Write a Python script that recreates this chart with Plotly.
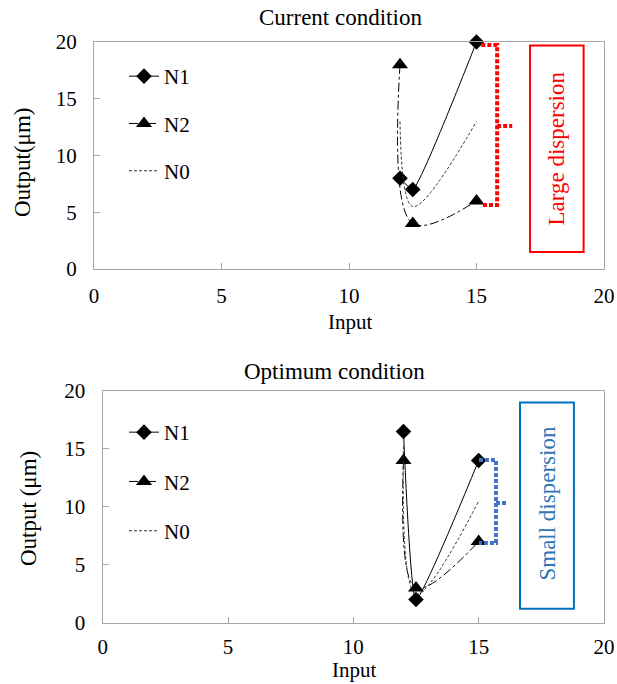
import plotly.graph_objects as go

# ---- data ----
x_in = [12, 12.5, 15]
cur_n1 = [8, 7, 20]
cur_n2 = [18, 4, 6]
cur_n0 = [13, 5.5, 13]
opt_n1 = [16.5, 2, 14]
opt_n2 = [14, 3, 7]
opt_n0 = [15.25, 2.5, 10.5]
x_ticks = [0, 5, 10, 15, 20]
y_ticks = [0, 5, 10, 15, 20]

FONT = "Liberation Serif"
W, H = 617, 684

fig = go.Figure()

def add_series(xa, ya, leg, n1, n2, n0):
    fig.add_trace(go.Scatter(x=x_in, y=n1, name="N1", mode="lines+markers",
                             line=dict(color="black", width=1, shape="spline", smoothing=0.4),
                             marker=dict(symbol="diamond", size=12, color="black"),
                             xaxis=xa, yaxis=ya, legend=leg, legendgroup=leg + "a", cliponaxis=False))
    fig.add_trace(go.Scatter(x=x_in, y=n2, name="N2", mode="lines+markers",
                             line=dict(color="black", width=1, dash="dashdot", shape="spline", smoothing=1),
                             marker=dict(symbol="triangle-up", size=14, color="black"),
                             xaxis=xa, yaxis=ya, legend=leg, legendgroup=leg + "b", cliponaxis=False))
    fig.add_trace(go.Scatter(x=x_in, y=n0, name="N0", mode="lines",
                             line=dict(color="#333333", width=1, dash="3px,2px", shape="spline", smoothing=1),
                             xaxis=xa, yaxis=ya, legend=leg, legendgroup=leg + "c", cliponaxis=False))

add_series("x", "y", "legend", cur_n1, cur_n2, cur_n0)
add_series("x2", "y2", "legend2", opt_n1, opt_n2, opt_n0)

def px_x(p):
    return p / W

def px_y(p):
    return 1 - p / H

axis_common = dict(range=[0, 20], showgrid=False, zeroline=False, showline=True, mirror=True,
                   linecolor="#a6a6a6", linewidth=1.3, ticks="inside", ticklen=6, tickcolor="#a6a6a6",
                   tickfont=dict(family=FONT, size=21, color="black"), tickvals=x_ticks,
                   fixedrange=True, automargin=False)

legend_common = dict(font=dict(family=FONT, size=21, color="black"), bgcolor="rgba(0,0,0,0)",
                     tracegroupgap=17, xanchor="left", yanchor="top", itemclick=False)

fig.update_layout(
    template="none",
    width=W, height=H, autosize=False,
    margin=dict(l=0, r=0, t=0, b=0, pad=0),
    paper_bgcolor="white", plot_bgcolor="white",
    showlegend=True,
    xaxis=dict(axis_common, domain=[px_x(94), px_x(604)], anchor="y", ticklabelstandoff=8),
    yaxis=dict(axis_common, domain=[px_y(269), px_y(42)], anchor="x", tickvals=y_ticks, ticklabelstandoff=12),
    xaxis2=dict(axis_common, domain=[px_x(102.7), px_x(604)], anchor="y2", ticklabelstandoff=5),
    yaxis2=dict(axis_common, domain=[px_y(622.7), px_y(391)], anchor="x2", tickvals=y_ticks, ticklabelstandoff=12),
    legend=dict(legend_common, x=px_x(124), y=px_y(56)),
    legend2=dict(legend_common, x=px_x(124), y=px_y(412), tracegroupgap=19),
)

ann_font = dict(family=FONT, size=23, color="black")
lab_font = dict(family=FONT, size=21, color="black")
annotations = [
    dict(text="Current condition", x=px_x(340), y=px_y(18), xref="paper", yref="paper",
         showarrow=False, font=ann_font, yanchor="middle"),
    dict(text="Optimum condition", x=px_x(334), y=px_y(371), xref="paper", yref="paper",
         showarrow=False, font=ann_font, yanchor="middle"),
    dict(text="Input", x=px_x(350), y=px_y(322), xref="paper", yref="paper",
         showarrow=False, font=lab_font, yanchor="middle"),
    dict(text="Input", x=px_x(354), y=px_y(670), xref="paper", yref="paper",
         showarrow=False, font=lab_font, yanchor="middle"),
    dict(text="Output(μm)", x=px_x(22), y=px_y(163), xref="paper", yref="paper",
         showarrow=False, font=ann_font, textangle=-90, xanchor="center", yanchor="middle"),
    dict(text="Output (μm)", x=px_x(29), y=px_y(509), xref="paper", yref="paper",
         showarrow=False, font=ann_font, textangle=-90, xanchor="center", yanchor="middle"),
    dict(text="Large dispersion", x=18.15, y=10.6, xref="x", yref="y", showarrow=False,
         font=dict(family=FONT, size=23, color="#ff0000"), textangle=-90),
    dict(text="Small dispersion", x=17.75, y=10.25, xref="x2", yref="y2", showarrow=False,
         font=dict(family=FONT, size=23, color="#2e75b6"), textangle=-90),
]
fig.update_layout(annotations=annotations)

red = "#ff0000"
blue = "#4472c4"
shapes = [
    # red box
    dict(type="rect", xref="x", yref="y", x0=17.1, x1=19.2, y0=1.5, y1=19.7,
         line=dict(color=red, width=2)),
    # red bracket
    dict(type="path", xref="x", yref="y", path="M15.19,19.74 L15.81,19.74 L15.81,5.64 L15.19,5.64",
         line=dict(color=red, width=4, dash="4px,2px")),
    dict(type="line", xref="x", yref="y", x0=15.81, x1=16.4, y0=12.6, y1=12.6,
         line=dict(color=red, width=4, dash="4px,2px")),
    # blue box
    dict(type="rect", xref="x2", yref="y2", x0=16.65, x1=18.8, y0=1.2, y1=19.0,
         line=dict(color="#0070c0", width=2)),
    # blue bracket
    dict(type="path", xref="x2", yref="y2", path="M15.01,14.04 L15.69,14.04 L15.69,6.88 L15.01,6.88",
         line=dict(color=blue, width=4, dash="4px,2px")),
    dict(type="line", xref="x2", yref="y2", x0=15.69, x1=16.09, y0=10.33, y1=10.33,
         line=dict(color=blue, width=4, dash="4px,2px")),
]
fig.update_layout(shapes=shapes)

fig.write_html("out.html", config={"displayModeBar": False},
               post_script="document.body.style.margin='0';document.body.style.overflow='hidden';")
